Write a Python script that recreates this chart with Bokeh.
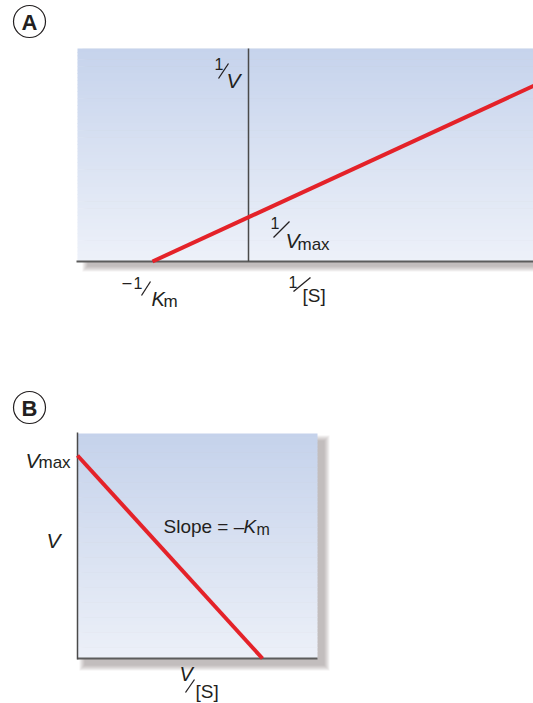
from bokeh.plotting import figure
from bokeh.models import Range1d
from bokeh.core.properties import value
from bokeh.embed import file_html
from bokeh.resources import INLINE

# ---------------- data ----------------
# Panel A: Lineweaver-Burk (double reciprocal) plot
lb_inv_s = [-0.5, 1.5]      # 1/[S]  (x-intercept = -1/Km)
lb_inv_v = [0.0, 1.0]       # 1/V    (y-intercept = 1/Vmax)
# Panel B: Eadie-Hofstee plot
eh_v_over_s = [0.0, 2.0]    # V/[S]
eh_v = [4.0, 0.0]           # V      (y-intercept = Vmax)

# ---------------- layout ----------------
W, H = 533, 703
M = 0
FONT = "Liberation Sans"
TXT = "#231f20"
RED = "#e42229"
AXC = "#4a4a4a"


def X(px):
    return px - M


def Y(py):
    return py - M


p = figure(width=W, height=H, output_backend="svg", toolbar_location=None,
           x_range=Range1d(0, W), y_range=Range1d(H, 0),
           x_axis_location=None, y_axis_location=None, min_border=0,
           outline_line_color=None, background_fill_color="white",
           border_fill_color="white")
p.grid.visible = False

# panel A data scale
A_x0, A_sx = X(248), 192.0
A_y0, A_sy = Y(261), 177.0
p.extra_x_ranges["ax"] = Range1d(start=-A_x0 / A_sx, end=(W - A_x0) / A_sx)
p.extra_y_ranges["ay"] = Range1d(start=-(H - A_y0) / A_sy, end=A_y0 / A_sy)
# panel B data scale
B_x0, B_sx = X(77), 92.5
B_y0, B_sy = Y(658), 50.75
p.extra_x_ranges["bx"] = Range1d(start=-B_x0 / B_sx, end=(W - B_x0) / B_sx)
p.extra_y_ranges["by"] = Range1d(start=-(H - B_y0) / B_sy, end=B_y0 / B_sy)


def hexc(c):
    return "#%02x%02x%02x" % c


def shadow(l, r, t, b, dx, dy, n=6, alpha=0.08, color="#6b5d55"):
    for i in range(n):
        p.quad(left=X(l + dx - i), right=X(r + dx + i), top=Y(t + dy - i),
               bottom=Y(b + dy + i), fill_color=color, fill_alpha=alpha,
               line_color=None)


def gradient(l, r, t, b, c_top, c_bot, n=60):
    h = (b - t) / n
    tops, bots, cols = [], [], []
    for i in range(n):
        f = i / (n - 1)
        col = tuple(int(round(c_top[k] + (c_bot[k] - c_top[k]) * f)) for k in range(3))
        tops.append(Y(t + i * h))
        bots.append(Y(min(b, t + (i + 1) * h + 0.6)))
        cols.append(hexc(col))
    p.quad(left=X(l), right=X(r), top=tops, bottom=bots, fill_color=cols,
           line_color=None)


def txt(x, base, s, size, style="normal", align="left"):
    # position given by baseline; rendered with a middle baseline
    p.text(x=[X(x)], y=[Y(base - 0.35 * size)], text=[s], text_font=value(FONT),
           text_font_size=value(f"{size}px"), text_font_style=value(style),
           text_align=align, text_baseline="middle", text_color=TXT)


def slash(x0, y0, x1, y1):
    p.segment(x0=[X(x0)], y0=[Y(y0)], x1=[X(x1)], y1=[Y(y1)],
              line_color=TXT, line_width=1.3)


def badge(cx, cy, letter):
    p.scatter(x=[X(cx)], y=[Y(cy)], size=32, marker="circle",
              fill_color="white", line_color=TXT, line_width=1.2)
    txt(cx, cy + 8.5, letter, 22, "bold", "center")


# ---------------- panel A ----------------
badge(29, 21, "A")
shadow(77, 533, 48, 261, 10, 5)
gradient(77, 533, 48, 261, (198, 211, 236), (237, 241, 249))
p.segment(x0=[X(76)], y0=[Y(261)], x1=[X(533)], y1=[Y(261)],
          line_color="#5c5c5c", line_width=2)
p.segment(x0=[X(248)], y0=[Y(48)], x1=[X(248)], y1=[Y(261)],
          line_color=AXC, line_width=1.5)
p.line(lb_inv_s, lb_inv_v, x_range_name="ax", y_range_name="ay",
       line_color=RED, line_width=4)

# 1/V
txt(218.5, 69, "1", 16, align="center")
slash(218, 78, 228, 63)
txt(233, 87, "V", 21, "italic", "center")
# 1/Vmax
txt(274.5, 228, "1", 16, align="center")
slash(273, 237, 289, 221)
txt(285, 247, "V", 21, "italic")
txt(297, 250, "max", 17)
# -1/Km
txt(122, 288, "–", 16)
txt(137.5, 288, "1", 16, align="center")
slash(141, 295, 150, 281)
txt(151, 305, "K", 20, "italic")
txt(163, 307, "m", 17)
# 1/[S]
txt(292.5, 287, "1", 16, align="center")
slash(293, 291, 310, 277)
txt(302, 302, "[S]", 19)

# ---------------- panel B ----------------
badge(29, 407, "B")
shadow(77, 317, 433, 658, 7, 7)
gradient(77, 317, 433, 658, (197, 210, 235), (236, 240, 248))
p.segment(x0=[X(77)], y0=[Y(658)], x1=[X(317)], y1=[Y(658)],
          line_color="#5c5c5c", line_width=2)
p.segment(x0=[X(77)], y0=[Y(432)], x1=[X(77)], y1=[Y(659)],
          line_color=AXC, line_width=1.5)
p.line(eh_v_over_s, eh_v, x_range_name="bx", y_range_name="by",
       line_color=RED, line_width=4)

# Vmax
txt(25, 467, "V", 21, "italic")
txt(38, 468, "max", 17)
# V
txt(46, 547, "V", 21, "italic")
# Slope = -Km
txt(163, 533, "Slope = –", 19)
txt(243, 533, "K", 19, "italic")
txt(256, 535, "m", 16)
# V/[S]
txt(179, 680, "V", 20, "italic")
slash(185, 692, 194, 679)
txt(195, 698, "[S]", 19)

open("out.html", "w").write(file_html(p, INLINE))
